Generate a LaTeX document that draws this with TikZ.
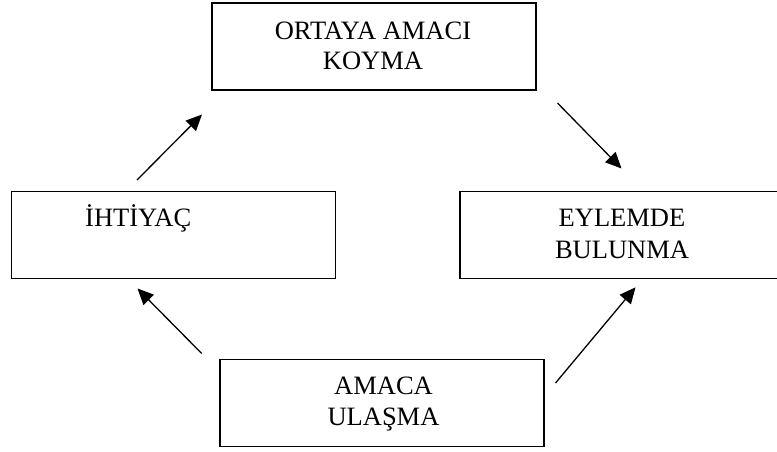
\documentclass[tikz,border=0pt]{standalone}
\usepackage{fontspec}
\setmainfont{Liberation Serif}
\usetikzlibrary{arrows.meta}
\begin{document}
\begin{tikzpicture}[x=1pt,y=-1pt,
  box/.style={draw=black,line width=1.8pt,rectangle,inner sep=0pt,
    minimum width=324pt,minimum height=87pt},
  label/.style={font=\fontsize{26.5}{31}\selectfont,inner sep=0pt,anchor=base},
  flow/.style={line width=1.3pt,-{Triangle[length=16pt,width=14.5pt]}}]
\useasboundingbox (0,0) rectangle (777,451);
\clip (0,0) rectangle (777,451);

% the four stages of the cycle
\node[box] (top)    at (374,46.5)  {};
\node[box] (left)   at (173.5,235) {};
\node[box] (right)  at (622,235)   {};
\node[box] (bottom) at (382,403)   {};

% stage names
\node[label] (ttop1) at (373,39.3)   {ORTAYA AMACI};
\node[label] (ttop2) at (373,69.3)   {KOYMA};
\node[label,anchor=base west] (tleft) at (85,226.7) {İHTİYAÇ};
\node[label] (tright1) at (622,226.7) {EYLEMDE};
\node[label] (tright2) at (622,258.3) {BULUNMA};
\node[label] (tbot1) at (383.5,394.3) {AMACA};
\node[label] (tbot2) at (383.5,425)   {ULAŞMA};

% arrow end points between the boxes
\coordinate (a1) at (137,180);
\coordinate (a2) at (202,114.5);
\coordinate (b1) at (557.5,103);
\coordinate (b2) at (621.5,168.5);
\coordinate (c1) at (555.5,383);
\coordinate (c2) at (635.5,287.3);
\coordinate (d1) at (201.7,353.5);
\coordinate (d2) at (137.5,288.5);

\draw[flow] (a1) -- (a2);
\draw[flow] (b1) -- (b2);
\draw[flow] (c1) -- (c2);
\draw[flow] (d1) -- (d2);
\end{tikzpicture}
\end{document}
